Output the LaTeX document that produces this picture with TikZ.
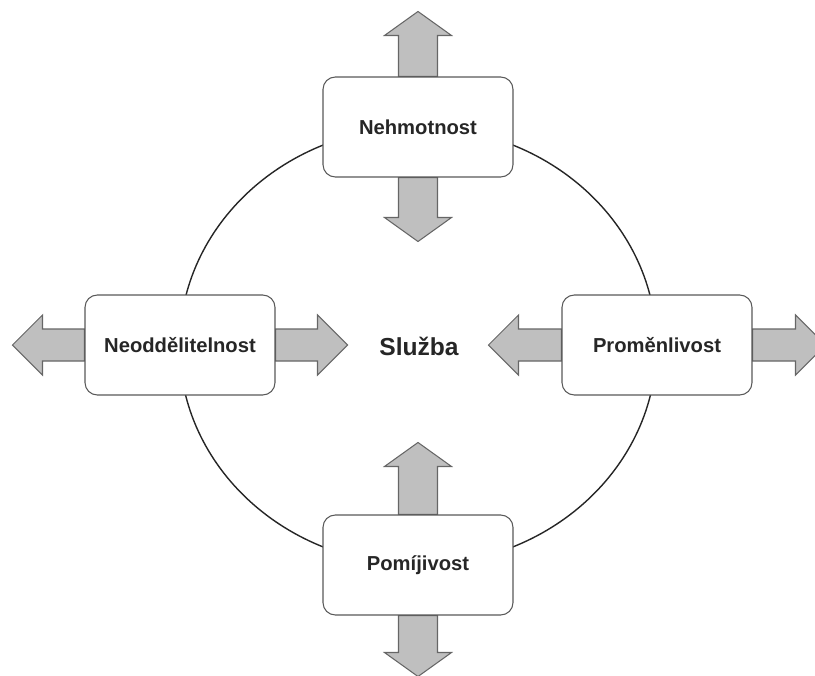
\documentclass[tikz,border=0pt]{standalone}
\usepackage{fontspec}
\setmainfont{Liberation Sans}
\usetikzlibrary{backgrounds}

\tikzset{
	box/.style={draw=black!65, line width=0.6pt, rounded corners=7pt, fill=white,
		minimum width=3.8cm, minimum height=2cm, inner sep=0pt,
		font=\bfseries\fontsize{11.5}{13}\selectfont, text=black!85},
	bigarrow/.style={draw=black!60, fill=black!25, line width=0.6pt, line join=miter}
}

% block arrows: anchor, direction (1 or -1), shaft length
\newcommand{\vertarrow}[3]{\draw[bigarrow] (#1) ++(-19.5,0) -- ++(0,{(#2)*#3}) -- ++(-14,0) -- ++(33.5,{(#2)*24}) -- ++(33.5,{-(#2)*24}) -- ++(-14,0) -- ++(0,{-(#2)*#3}) -- cycle;}
\newcommand{\horarrow}[3]{\draw[bigarrow] (#1) ++(0,-16) -- ++({(#2)*#3},0) -- ++(0,-14) -- ++({(#2)*30},30) -- ++({-(#2)*30},30) -- ++(0,-14) -- ++({-(#2)*#3},0) -- cycle;}

\begin{document}
\begin{tikzpicture}[x=0.02cm, y=-0.02cm]
		\clip (0,0) rectangle (815,676);
		
		\node[box] (nehm) at (418,127) {Nehmotnost};
		\node[box] (neod) at (180,345) {Neoddělitelnost};
		\node[box] (prom) at (657,345) {Proměnlivost};
		\node[box] (pomi) at (418,565) {Pomíjivost};
		\node[font=\bfseries\fontsize{14}{16}\selectfont, text=black!85] (sluz) at (419,346) {Služba};
		
		\begin{scope}[on background layer]
		\draw[black!85, line width=0.8pt] (418,346) ellipse [x radius=4.77cm, y radius=4.38cm];
		\vertarrow{nehm.north}{-1}{41}
		\vertarrow{nehm.south}{1}{40}
		\vertarrow{pomi.north}{-1}{48}
		\vertarrow{pomi.south}{1}{37}
		\horarrow{neod.west}{-1}{42}
		\horarrow{neod.east}{1}{42}
		\horarrow{prom.west}{-1}{43}
		\horarrow{prom.east}{1}{43}
		\end{scope}
		
	\end{tikzpicture}
\end{document}
